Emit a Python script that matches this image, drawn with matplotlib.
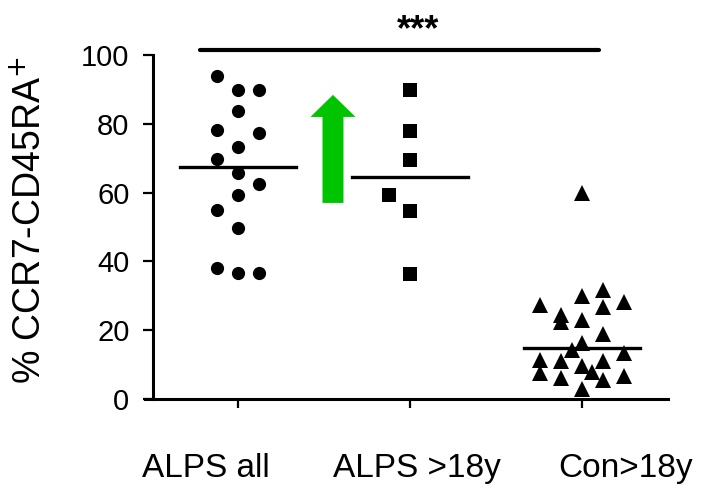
import matplotlib.pyplot as plt

plt.rcParams["font.family"] = ["Liberation Sans", "DejaVu Sans"]

groups = ["ALPS all", "ALPS >18y", "Con>18y"]

# values, with the column slot of each point inside its group
alps_all = [93.9, 89.8, 89.8, 83.7, 78.2, 77.3, 73.3, 69.8, 65.7, 62.5, 59.3, 54.9, 49.7, 38.1, 36.6, 36.6]
alps_all_slot = [-1, 0, 1, 0, -1, 1, 0, -1, 0, 1, 0, -1, 0, -1, 0, 1]

alps_adult = [89.8, 77.9, 69.5, 59.3, 54.7, 36.3]
alps_adult_slot = [0, 0, 0, -1, 0, 0]

con_adult = [59.9, 31.7, 29.9, 27.3, 28.2, 26.7, 24.4, 22.4, 23.0, 18.9, 16.3, 14.2,
             13.4, 11.3, 11.0, 11.0, 9.6, 7.6, 7.8, 6.1, 5.5, 6.7, 2.9]
con_adult_slot = [0, 1, 0, -2, 2, 1, -1, -1, 0, 1, 0, -0.5,
                  2, -2, -1, 1, 0, -2, 0.5, -1, 1, 2, 0]

medians = [67.4, 64.5, 14.8]

yticks = [0, 20, 40, 60, 80, 100]

fig = plt.figure(figsize=[7.05, 4.9], dpi=100)
ax = fig.add_axes([145 / 705, 91 / 490, 523 / 705, 344 / 490])

step = 0.122  # horizontal spacing between point columns
series = [(alps_all, alps_all_slot, "o", 9.5),
          (alps_adult, alps_adult_slot, "s", 10),
          (con_adult, con_adult_slot, "^", 11.5)]

for i, (vals, slots, mk, ms) in enumerate(series):
    xs = [i + 1 + s * step for s in slots]
    ax.plot(xs, vals, linestyle="none", marker=mk, markersize=ms, color="black",
            markeredgewidth=0, clip_on=False)
    ax.plot([i + 1 - 0.335, i + 1 + 0.335], [medians[i], medians[i]], color="black", lw=2.4)

# significance bar
ax.plot([0.779, 3.099], [101.5, 101.5], color="black", lw=3, clip_on=False, solid_capstyle="round")
ax.text(2.047, 104.3, "***", ha="center", va="baseline", fontsize=26, fontweight="bold")

# green arrow
ax.arrow(1.552, 57.0, 0, 31.4, width=0.122, head_width=0.262, head_length=6.4,
         length_includes_head=True, color="#00c400", linewidth=0)

ax.set_xlim(0.459, 3.5)
ax.set_ylim(0, 100)
ax.spines["top"].set_visible(False)
ax.spines["right"].set_visible(False)
ax.spines["left"].set_position(("data", 0.506))
ax.spines["left"].set_linewidth(2.2)
ax.spines["bottom"].set_linewidth(2.2)

ax.set_yticks(yticks)
ax.tick_params(axis="y", length=7, width=1.6, pad=10, labelsize=21)
ax.set_xticks([1, 2, 3])
ax.set_xticklabels([])
ax.tick_params(axis="x", length=6.5, width=1.6)

label_x = [0.811, 2.041, 3.256]
for x, g in zip(label_x, groups):
    ax.text(x, -0.2267, g, transform=ax.get_xaxis_transform(), ha="center", va="baseline", fontsize=24)

ax.set_ylabel("% CCR7-CD45RA$^{+}$", fontsize=27, va="center")
ax.yaxis.set_label_coords(-0.2180, 0.52)

plt.savefig("out.png", dpi=100)
